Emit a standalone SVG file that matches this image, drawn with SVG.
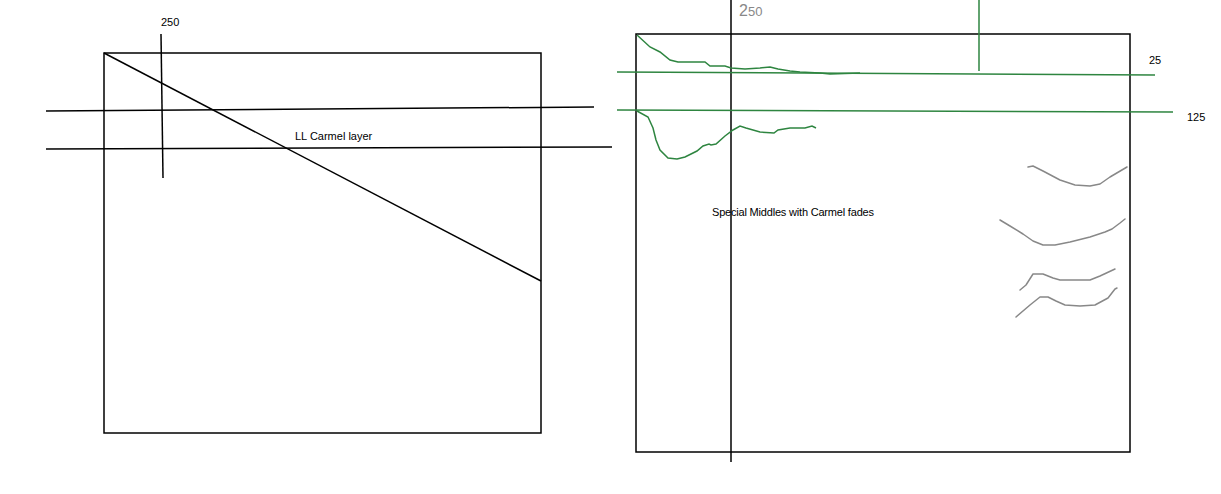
<svg xmlns="http://www.w3.org/2000/svg" width="1221" height="494" viewBox="0 0 1221 494">
<style>
.k{stroke:#000;stroke-width:1.5;fill:none}
.g{stroke:#2e8540;stroke-width:1.5;fill:none}
.gr{stroke:#888;stroke-width:1.5;fill:none;stroke-linecap:round;stroke-linejoin:round}
.t{font-family:"Liberation Sans",Arial,sans-serif;font-size:11px;fill:#000}
</style>
<rect width="1221" height="494" fill="#fff"/>
<g id="left-box">
<rect class="k" x="104" y="53" width="437" height="380"/>
<line class="k" x1="104" y1="53" x2="541" y2="281"/>
<line class="k" x1="46" y1="111" x2="594" y2="107"/>
<line class="k" x1="46" y1="149" x2="612" y2="147"/>
<line class="k" x1="161" y1="34" x2="163" y2="178"/>
<text class="t" x="161" y="26">250</text>
<text class="t" x="295" y="140">LL Carmel layer</text>
</g>
<g id="right-box">
<rect class="k" x="636" y="34" width="494" height="418"/>
<line class="k" x1="731" y1="0" x2="731" y2="462"/>
<line class="g" x1="979" y1="0" x2="979" y2="71"/>
<line class="g" x1="617" y1="72" x2="1155" y2="75"/>
<line class="g" x1="617" y1="110" x2="1173" y2="112"/>
<text class="t" x="1149" y="64">25</text>
<text class="t" x="1187" y="121">125</text>
<text x="739" y="16" style="font-family:'Liberation Sans',Arial,sans-serif;font-size:16px;fill:#888">2<tspan font-size="13">50</tspan></text>
<polyline class="g" points="637,35 650,47 660,52 670,60 678,62 705,62 710,66 725,66 731,68 745,69 760,68 770,67 778,69 790,71 800,72 820,73 830,74 860,73"/>
<polyline class="g" points="637,111 648,117 653,128 656,140 660,150 668,158 677,159 685,157 697,151 703,146 709,144 711,145 716,144 725,136 733,130 740,126 746,128 760,132 774,133 778,130 790,128 805,128 812,126 816,128"/>
<polyline class="gr" points="1028,167 1033,166 1043,171 1060,180 1075,185 1090,186 1100,184 1110,177 1127,167"/>
<polyline class="gr" points="1000,220 1010,226 1023,234 1033,241 1043,245 1055,245 1070,242 1090,237 1105,232 1112,229 1120,223 1125,219"/>
<polyline class="gr" points="1020,290 1026,285 1033,274 1043,274 1053,278 1060,280 1090,280 1100,276 1115,269"/>
<polyline class="gr" points="1016,317 1030,305 1040,297 1048,297 1056,301 1065,305 1080,306 1095,305 1108,298 1115,289 1117,288"/>
<text class="t" x="712" y="216" textLength="162">Special Middles with Carmel fades</text>
</g>
<g id="connectors"></g>
</svg>
